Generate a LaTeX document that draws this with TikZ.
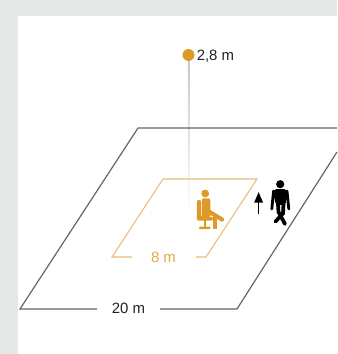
\documentclass[tikz,border=0pt]{standalone}
\usepackage{fontspec}
\setmainfont{Liberation Sans}
\definecolor{amber}{HTML}{DE9A28}
\definecolor{pale}{HTML}{E8BE78}
\definecolor{panel}{HTML}{E6E8E7}
\definecolor{ink}{HTML}{222222}
\usetikzlibrary{arrows.meta}
\tikzset{
  lbl/.style={font=\fontsize{11.2pt}{13pt}\selectfont,text=ink,inner sep=0pt,anchor=base},
  bigfloor/.style={draw=black!60,line width=0.9pt,line join=miter},
  smallfloor/.style={draw=pale,line width=0.8pt,line join=miter}
}
\begin{document}
\begin{tikzpicture}[x=0.75pt,y=-0.75pt]
\useasboundingbox (0,0) rectangle (337,354);
\fill[panel] (0,0) rectangle (337,354);
\fill[white] (17.5,16) rectangle (337,354);
% pole
\shade[top color=black!22,bottom color=white] (187.9,55) rectangle (189.5,215);
% coordinates
\coordinate (bl) at (20,309); \coordinate (tl) at (138,128); \coordinate (tr) at (337,128);
\coordinate (re) at (337,152); \coordinate (br) at (237,309);
\coordinate (bgl) at (97,309); \coordinate (bgr) at (160,309);
\coordinate (sbl) at (112,257); \coordinate (stl) at (163,179); \coordinate (str) at (257,179); \coordinate (sbr) at (206,257);
\coordinate (sgl) at (132,257); \coordinate (sgr) at (196,257);
\draw[bigfloor] (bgl) -- (bl) -- (tl) -- (tr);
\draw[bigfloor] (re) -- (br) -- (bgr);
\draw[smallfloor] (sgl) -- (sbl) -- (stl) -- (str) -- (sbr) -- (sgr);
\node[lbl] (big) at (128.5,313) {20 m};
\node[lbl,text=amber!85!white] (small) at (163.5,262) {8 m};
\node[circle,fill=amber,minimum size=9pt,inner sep=0pt] (lamp) at (188.5,55) {};
\node[lbl,anchor=base west] (height) at (196.5,60) {2,8 m};
% seated person
\fill[amber] (205.2,193.5) circle (3.9);
\fill[amber,rounded corners=1.2] (201.8,198.3) -- (210.3,198.3) -- (210.3,217.5) -- (201.8,217.5) -- cycle;
\draw[amber,line width=3.1pt,line cap=round] (208,211) -- (222,219.5);
\draw[amber,line width=3.1pt] (215.2,214.5) -- (215.2,229);
\fill[amber,rounded corners=1] (196.8,200) -- (201.2,200) -- (201.2,216.8) -- (213,216.8) -- (213,220.6) -- (196.8,220.6) -- cycle;
\fill[amber] (203.8,220) rectangle (206.4,228);
\fill[amber,rounded corners=0.7] (199,226.6) rectangle (210.5,229);
% up arrow
\coordinate (au) at (258.6,192); \coordinate (ad) at (258.6,214);
\draw[draw=black,line width=1.3pt,-{Triangle[width=6.4pt,length=8pt]}] (ad) -- (au);
% standing person
\fill[black] (280.2,184.2) circle (4.1);
\fill[black,rounded corners=1.5] (274.5,189) -- (286,189) -- (288,192) -- (285.5,205) -- (276,205) -- (272.8,192) -- cycle;
\draw[black,line width=2.1pt,line cap=round] (273.6,191) -- (271.8,209);
\draw[black,line width=2.1pt,line cap=round] (287,191) -- (288.8,209);
\draw[black,line width=2.8pt,line cap=round] (278,204) -- (278.5,212) -- (285,224);
\draw[black,line width=2.8pt,line cap=round] (283.5,204) -- (283,213.5) -- (275.5,221.5);
\end{tikzpicture}
\end{document}
